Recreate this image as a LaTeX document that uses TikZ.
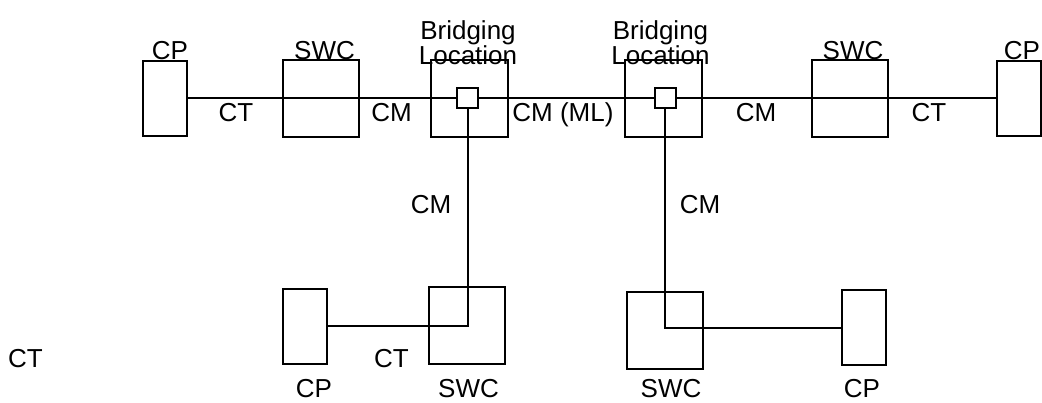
\documentclass[tikz,border=0pt]{standalone}
\usepackage{fontspec}
\setmainfont{Liberation Sans}
\tikzset{
  cpbox/.style={draw,inner sep=0pt,minimum width=44pt,minimum height=75pt},
  swcbox/.style={draw,inner sep=0pt,minimum width=76pt,minimum height=77pt},
  blbox/.style={draw,inner sep=0pt,minimum width=77pt,minimum height=77pt},
  port/.style={draw,inner sep=0pt,minimum width=21pt,minimum height=20pt},
  lbl/.style={anchor=base,inner sep=0pt}
}
\begin{document}
\begin{tikzpicture}[x=1pt,y=-1pt,line width=2pt,every node/.style={font=\fontsize{26}{25}\selectfont}]
%\draw[help lines, color=gray!30, dashed] (0,0) grid[step=50] (1042,403);
\useasboundingbox (0,0) rectangle (1042,403);
\node[cpbox] (cpa) at (165,98.5) {};
\node[swcbox] (swca) at (321,98.5) {};
\node[blbox] (bla) at (469.5,98.5) {};
\node[port] (pta) at (467.5,98.5) {};
\node[blbox] (blb) at (663.5,98.5) {};
\node[port] (ptb) at (665,98.5) {};
\node[swcbox] (swcb) at (849.5,98.5) {};
\node[cpbox] (cpb) at (1019,98.5) {};
\node[cpbox] (cpc) at (305,326.5) {};
\node[swcbox] (swcc) at (467,326) {};
\node[swcbox] (swcd) at (665,330.5) {};
\node[cpbox] (cpd) at (863.5,328) {};
\draw (cpa.east)--(pta.west);
\draw (pta.east)--(ptb.west);
\draw (ptb.east)--(cpb.west);
\draw (pta.south) |- (cpc.east);
\draw (ptb.south) |- (cpd.west);
\node[lbl] at (170,60) {CP};
\node[lbl] at (324.5,60) {SWC};
\node[anchor=south,inner sep=0pt,align=center] at (468,65.5) {Bridging\\Location};
\node[anchor=south,inner sep=0pt,align=center] at (660.5,65.5) {Bridging\\Location};
\node[lbl] at (853,60) {SWC};
\node[lbl] at (1022,60) {CP};
\node[lbl] at (236,122) {CT};
\node[lbl] at (391.5,122) {CM};
\node[lbl] at (563,122) {CM (ML)};
\node[lbl] at (756,122) {CM};
\node[lbl] at (929,122) {CT};
\node[lbl] at (431,214) {CM};
\node[lbl] at (700,214) {CM};
\node[lbl] at (25.5,367) {CT};
\node[lbl] at (391.5,367) {CT};
\node[lbl] at (314,397) {CP};
\node[lbl] at (468.5,397) {SWC};
\node[lbl] at (671,397) {SWC};
\node[lbl] at (862,397) {CP};
\end{tikzpicture}
\end{document}
